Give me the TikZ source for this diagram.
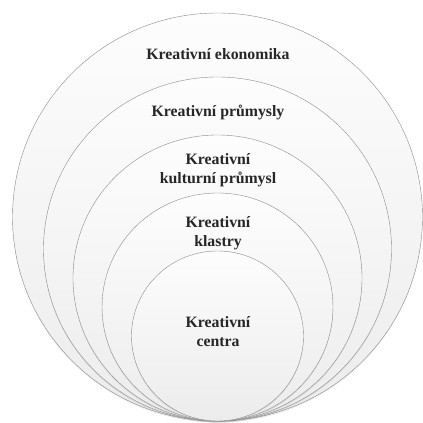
\documentclass[tikz,border=0pt]{standalone}
\usepackage{fontspec}
\setmainfont{Liberation Serif}
\usetikzlibrary{positioning,shadows}
\definecolor{ringline}{HTML}{8C8C8C}
\definecolor{ringtop}{HTML}{FDFDFD}
\definecolor{ringbot}{HTML}{ECECEC}

\begin{document}
\begin{tikzpicture}[x=1pt, y=1pt,
  ring/.style={draw=ringline, line width=0.4pt, top color=ringtop, bottom color=ringbot,
    drop shadow={opacity=0.15, shadow xshift=0pt, shadow yshift=-1.5pt}},
  ringlabel/.style={font=\fontsize{15.8}{19}\selectfont\bfseries, text=black!85, align=center}]
\useasboundingbox (0,0) rectangle (423,423);
% nested rings, all touching at the bottom
\foreach \rx/\ry in {205/204, 174/172, 144.5/143, 115.5/114, 86/85}
  \draw[ring] (217.5,2+\ry) ellipse [x radius=\rx, y radius=\ry];
\node[ringlabel] (eko) at (218,369) {Kreativní ekonomika};
\node[ringlabel] (prum) at (218,311) {Kreativní průmysly};
\node[ringlabel] (kult) at (218,253) {Kreativní\\kulturní průmysl};
\node[ringlabel] (klas) at (218,190) {Kreativní\\klastry};
\node[ringlabel] (cent) at (218,91) {Kreativní\\centra};
\end{tikzpicture}
\end{document}
